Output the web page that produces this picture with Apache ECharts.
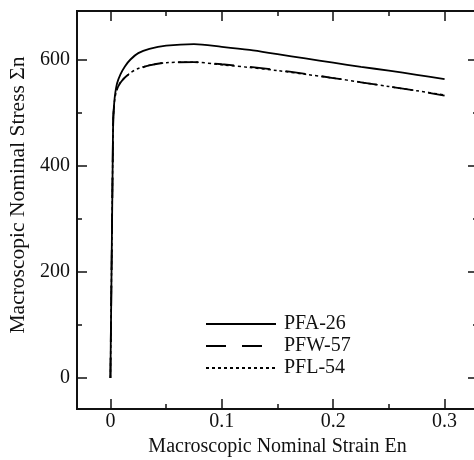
<!DOCTYPE html>
<html><head><meta charset="utf-8">
<script src="https://cdn.jsdelivr.net/npm/echarts@6/dist/echarts.min.js"></script>
<style>html,body{margin:0;padding:0;background:#fff}#c{width:474px;height:460px}</style>
</head><body><div id="c"></div>
<script>
const seriesNames = ['PFA-26', 'PFW-57', 'PFL-54'];
const strainA = [0, 0.0005, 0.001, 0.0015, 0.002, 0.0025, 0.003, 0.004, 0.006, 0.009, 0.013, 0.018, 0.025, 0.035, 0.05, 0.075, 0.1, 0.125, 0.15, 0.175, 0.2, 0.225, 0.25, 0.275, 0.3];
const stressPFA26 = [0, 100, 200, 300, 400, 490, 508, 532, 556, 573, 588, 601, 613, 621, 627, 630, 625, 619, 611, 603, 595, 587, 580, 572, 564];
const stressPFW57 = [0, 100, 200, 300, 400, 480, 505, 526, 545, 557, 567, 575, 583, 590, 595, 596, 592, 587, 581, 574, 566, 558, 550, 542, 533];
const stressPFL54 = [0, 100, 200, 300, 400, 482, 507, 527, 546, 558, 567, 576, 584, 590, 595, 596, 591, 586, 580, 573, 566, 558, 550, 542, 534];
const xMajorTicks = [0, 0.1, 0.2, 0.3];
const xMinorTicks = [0.05, 0.15, 0.25];
const yMajorTicks = [0, 200, 400, 600];
const yMinorTicks = [100, 300, 500];

const FONT = "'Liberation Serif', 'Times New Roman', serif";
const INK = '#111';
const FS = 20;
const xMin = -0.03, xMax = 0.33, yMin = -58.5, yMax = 692.5;

function pairs(xs, ys) { return xs.map((x, i) => [x, ys[i]]); }

function xAx(pos, ticks, len, labels) {
  return {
    type: 'value', position: pos, min: xMin, max: xMax,
    axisLine: { show: false, onZero: false },
    splitLine: { show: false },
    axisTick: { show: true, inside: true, length: len, customValues: ticks, lineStyle: { color: INK, width: 1.5 } },
    axisLabel: labels ? { show: true, customValues: ticks, fontFamily: FONT, fontSize: FS, color: INK, margin: 3,
      formatter: v => (v === 0 ? '0' : String(Math.round(v * 10) / 10)) } : { show: false },
    name: labels ? 'Macroscopic Nominal Strain En' : '',
    nameLocation: 'middle', nameGap: 28,
    nameTextStyle: { fontFamily: FONT, fontSize: FS, color: INK }
  };
}
function yAx(pos, ticks, len, labels) {
  return {
    type: 'value', position: pos, min: yMin, max: yMax,
    axisLine: { show: false, onZero: false },
    splitLine: { show: false },
    axisTick: { show: true, inside: true, length: len, customValues: ticks, lineStyle: { color: INK, width: 1.5 } },
    axisLabel: labels ? { show: true, customValues: ticks, fontFamily: FONT, fontSize: FS, color: INK, margin: 7 } : { show: false },
    name: labels ? 'Macroscopic Nominal Stress Σn' : '',
    nameLocation: 'middle', nameGap: 46,
    nameTextStyle: { fontFamily: FONT, fontSize: 21.5, color: INK, padding: [0, 0, 0, 30] }
  };
}

const chart = echarts.init(document.getElementById('c'), null, { renderer: 'canvas' });
chart.setOption({
  animation: false,
  backgroundColor: '#fff',
  grid: { left: 77, top: 11, width: 401, height: 398, show: true, borderColor: INK, borderWidth: 2,
    backgroundColor: 'transparent', outerBoundsMode: 'none', containLabel: false },
  xAxis: [xAx('bottom', xMajorTicks, 10, true), xAx('bottom', xMinorTicks, 5, false), xAx('top', xMajorTicks, 10, false), xAx('top', xMinorTicks, 5, false)],
  yAxis: [yAx('left', yMajorTicks, 10, true), yAx('left', yMinorTicks, 5, false), yAx('right', yMajorTicks, 10, false), yAx('right', yMinorTicks, 5, false)],
  legend: {
    orient: 'vertical', left: 205, top: 314, padding: 0, itemWidth: 70, itemHeight: 14, itemGap: 2,
    itemStyle: { opacity: 0 },
    textStyle: { fontFamily: FONT, fontSize: FS, color: INK, padding: [0, 0, 0, 3] },
    data: seriesNames
  },
  series: [
    { name: seriesNames[0], type: 'line', showSymbol: false, symbol: 'none', smooth: 0.3, data: pairs(strainA, stressPFA26),
      lineStyle: { color: '#000', width: 1.8, type: 'solid' }, itemStyle: { color: '#000' } },
    { name: seriesNames[1], type: 'line', showSymbol: false, symbol: 'none', smooth: 0.3, data: pairs(strainA, stressPFW57),
      lineStyle: { color: '#000', width: 1.8, type: [20, 16] }, itemStyle: { color: '#000' } },
    { name: seriesNames[2], type: 'line', showSymbol: false, symbol: 'none', smooth: 0.3, data: pairs(strainA, stressPFL54),
      lineStyle: { color: '#000', width: 1.5, type: [3, 3] }, itemStyle: { color: '#000' } }
  ]
});
</script></body></html>
